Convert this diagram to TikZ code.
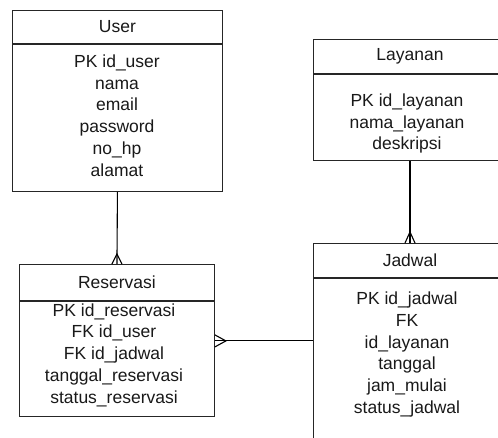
\documentclass[tikz,border=0pt]{standalone}
\usepackage{fontspec}
\setmainfont{Liberation Sans}
\usetikzlibrary{calc}
\begin{document}
\begin{tikzpicture}[x=1pt,y=-1pt,
  box/.style={draw=black!85, line width=0.9pt, fill=white, anchor=north west, inner sep=0pt},
  txt/.style={font=\fontsize{17.5}{21.8}\selectfont, align=center, inner sep=0pt, text=black!90},
  conn/.style={draw=black, line width=1.1pt}]
\useasboundingbox (0,0) rectangle (498,437);
\clip (0,0) rectangle (498,437);
% User
\node[box, minimum width=210pt, minimum height=33.5pt] (userh) at (12,9.5) {};
\node[txt] (usert) at (userh.center) {User};
\node[box, minimum width=210pt, minimum height=147pt] (userb) at (userh.south west) {};
\node[txt] (userl) at (117,115.5) {PK id\_user\\nama\\email\\password\\no\_hp\\alamat};
% Reservasi
\node[box, minimum width=195pt, minimum height=36pt] (resh) at (19,264) {};
\node[txt] (rest) at (resh.center) {Reservasi};
\node[box, minimum width=195pt, minimum height=115pt] (resb) at (resh.south west) {};
\node[txt] (resl) at (114,355) {PK id\_reservasi\\FK id\_user\\FK id\_jadwal\\tanggal\_reservasi\\status\_reservasi};
% Layanan
\node[box, minimum width=194pt, minimum height=34pt] (layh) at (313,39) {};
\node[txt] (layt) at (410,56) {Layanan};
\node[box, minimum width=194pt, minimum height=86pt] (layb) at (layh.south west) {};
\node[txt] (layl) at (407,123.5) {PK id\_layanan\\nama\_layanan\\deskripsi};
% Jadwal
\node[box, minimum width=194pt, minimum height=34pt] (jadh) at (313,243) {};
\node[txt] (jadt) at (410,260) {Jadwal};
\node[box, minimum width=194pt, minimum height=190pt] (jadb) at (jadh.south west) {};
\node[txt] (jadl) at (407,354.5) {PK id\_jadwal\\FK\\id\_layanan\\tanggal\\jam\_mulai\\status\_jadwal};
% connectors
\draw[conn] (userb.south) -- (resh.north);
\draw[conn] ($(resh.north)+(-5,0)$) -- ($(resh.north)+(0,-10)$) -- ($(resh.north)+(5,0)$);
\draw[conn] ($(layb.south west)+(97,0)$) -- ($(jadh.north west)+(97,0)$);
\draw[conn] ($(jadh.north west)+(92,0)$) -- ($(jadh.north west)+(97,-11)$) -- ($(jadh.north west)+(102,0)$);
\draw[conn] ($(resb.north east)+(0,40)$) -- ($(jadb.north west)+(0,63)$);
\draw[conn] ($(resb.north east)+(0,34)$) -- ($(resb.north east)+(11,40)$) -- ($(resb.north east)+(0,46)$);
\end{tikzpicture}
\end{document}
